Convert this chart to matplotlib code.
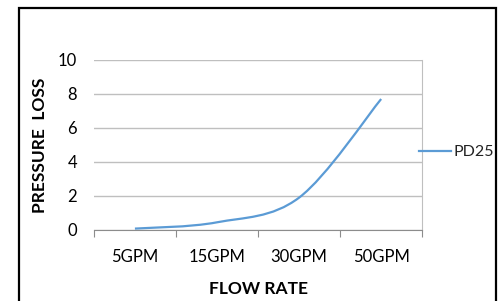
import matplotlib.pyplot as plt
import matplotlib as mpl
from matplotlib.path import Path
from matplotlib.patches import PathPatch, Rectangle
from matplotlib.lines import Line2D

categories = ['5GPM', '15GPM', '30GPM', '50GPM']
pd25 = [0.08, 0.45, 1.9, 7.7]
yticks = [0, 2, 4, 6, 8, 10]


def smooth_path(xs, ys):
    # Excel-style smoothed line: Catmull-Rom turned into cubic Bezier segments
    verts = [(xs[0], ys[0])]
    codes = [Path.MOVETO]
    n = len(xs)
    for i in range(n - 1):
        x0, y0 = (xs[i - 1], ys[i - 1]) if i > 0 else (xs[i], ys[i])
        x1, y1 = xs[i], ys[i]
        x2, y2 = xs[i + 1], ys[i + 1]
        x3, y3 = (xs[i + 2], ys[i + 2]) if i + 2 < n else (x2, y2)
        c1 = (x1 + (x2 - x0) / 6, y1 + (y2 - y0) / 6)
        c2 = (x2 - (x3 - x1) / 6, y2 - (y3 - y1) / 6)
        verts += [c1, c2, (x2, y2)]
        codes += [Path.CURVE4] * 3
    return Path(verts, codes)


if __name__ == "__main__":
    mpl.rcParams['font.family'] = ['Lato', 'DejaVu Sans']
    mpl.rcParams['font.size'] = 12
    mpl.rcParams['text.color'] = '#222222'

    fig = plt.figure(figsize=(5.02, 3.01), dpi=100)
    ax = fig.add_axes([0.187, 0.236, 0.654, 0.565])

    xs = list(range(len(categories)))
    line_color = '#5b9bd5'
    ax.add_patch(PathPatch(smooth_path(xs, pd25), facecolor='none',
                           edgecolor=line_color, lw=1.6, capstyle='butt'))

    ax.set_xlim(-0.5, len(categories) - 0.5)
    ax.set_ylim(0, 10)
    ax.set_yticks(yticks)
    ax.set_xticks(xs)
    ax.set_xticklabels(categories)
    ax.set_xticks([i - 0.5 for i in range(len(categories) + 1)], minor=True)
    ax.tick_params(axis='x', which='major', length=0, pad=14, labelsize=12)
    ax.tick_params(axis='x', which='minor', length=5, color='#8c8c8c', width=0.8)
    ax.tick_params(axis='y', length=0, pad=12, labelsize=12)

    ax.grid(axis='y', color='#bfbfbf', lw=1)
    ax.set_axisbelow(True)
    for side in ['top', 'left']:
        ax.spines[side].set_visible(False)
    ax.spines['bottom'].set_color('#8c8c8c')
    ax.spines['right'].set_color('#bfbfbf')

    ax.set_ylabel('PRESSURE  LOSS', fontsize=12.5, fontweight='bold', labelpad=7)
    ax.set_xlabel('FLOW RATE', fontsize=12.5, fontweight='bold', labelpad=11)

    handle = Line2D([], [], color=line_color, lw=1.6)
    fig.legend([handle], ['PD25'], loc='center left', bbox_to_anchor=(0.806, 0.495),
               frameon=False, handlelength=2.0, handletextpad=0.15, fontsize=11.5)

    fig.patches.append(Rectangle((0.037, -0.05), 0.952, 1.023, transform=fig.transFigure,
                                 fill=False, edgecolor='black', lw=1.6))

    fig.savefig('out.png', dpi=100)
